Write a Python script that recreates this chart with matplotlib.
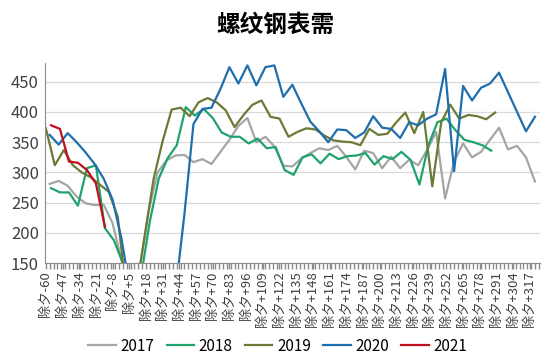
import matplotlib
matplotlib.use("Agg")
import matplotlib.pyplot as plt
import numpy as np

plt.rcParams['font.family'] = ['Noto Sans CJK SC', 'DejaVu Sans']

# weekly readings, day 0 = 除夕 (Chinese New Year's Eve)
years = ["2017", "2018", "2019", "2020", "2021"]
start_days = [-57, -56, -60, -57, -56]

v2017 = [281, 286, 278, 260, 249, 246, 247, 216, 155, 90, 140, 235, 300, 320, 328,
         329, 317, 322, 314, 334, 354, 377, 390, 350, 359, 343, 311, 310, 323, 332,
         340, 337, 344, 326, 305, 336, 332, 307, 326, 307, 321, 312, 337, 367, 257,
         318, 348, 325, 334, 354, 374, 338, 344, 325, 285]
v2018 = [274, 267, 267, 245, 307, 312, 208, 188, 150, 100, 126, 219, 290, 324, 345,
         408, 394, 405, 390, 366, 359, 359, 348, 356, 340, 342, 304, 296, 325, 330,
         315, 331, 322, 327, 328, 332, 313, 327, 322, 334, 321, 280, 345, 383, 389,
         370, 354, 350, 345, 336]
v2019 = [373, 312, 337, 312, 300, 292, 280, 268, 227, 95, 100, 195, 290, 352, 404,
         407, 393, 416, 423, 416, 403, 375, 395, 412, 419, 392, 389, 359, 367, 373,
         371, 361, 353, 351, 350, 345, 372, 362, 364, 383, 399, 365, 400, 277, 383,
         412, 389, 395, 393, 388, 399]
v2020 = [362, 346, 365, 350, 333, 314, 290, 255, 190, 100, np.nan, np.nan, np.nan,
         np.nan, 103, 232, 380, 405, 407, 438, 474, 447, 477, 444, 474, 477, 425, 445,
         414, 384, 368, 350, 371, 370, 357, 366, 393, 374, 372, 357, 383, 378, 389,
         396, 471, 302, 443, 419, 440, 447, 465, np.nan, np.nan, 368, 392]
v2021 = [378, 372, 318, 316, 304, 282, 210]

colors = ["#A5A5A5", "#1FA36C", "#6B7A34", "#1F6EAD", "#C0101E"]

tick_days = list(range(-60, 318, 13))
tick_labels = ["除夕%+d" % d for d in tick_days]

fig = plt.figure(figsize=(5.5, 3.64), dpi=100)
ax = fig.add_axes([0.081, 0.277, 0.901, 0.55])

for name, d0, vals, c in zip(years, start_days, [v2017, v2018, v2019, v2020, v2021], colors):
    y = np.array(vals, dtype=float)
    x = d0 + 7 * np.arange(len(y))
    m = ~np.isnan(y)
    ax.plot(x[m], y[m], color=c, lw=1.6, label=name)

ax.set_xlim(-61, 325)
ax.set_ylim(150, 481)
ax.set_yticks(range(150, 451, 50))
ax.yaxis.grid(True, color="#D9D9D9", lw=0.9)
ax.set_axisbelow(True)

ax.set_xticks(tick_days)
ax.set_xticklabels(tick_labels, rotation=90, fontsize=9.5, color="#404040")
ax.set_xticks(np.arange(-60, 325, 3), minor=True)
ax.tick_params(axis="x", which="both", length=4, width=1, color="#8C8C8C", pad=2)
ax.tick_params(axis="y", length=0, labelsize=12, colors="#404040", pad=4)

for s in ["top", "right"]:
    ax.spines[s].set_visible(False)
ax.spines["left"].set_color("#8C8C8C")
ax.spines["bottom"].set_color("#8C8C8C")

fig.suptitle("螺纹钢表需", fontsize=17, fontweight="bold", x=0.5, y=0.965)
fig.legend(loc="lower center", bbox_to_anchor=(0.505, -0.012), ncol=5, frameon=False,
           fontsize=11, handlelength=1.8, handletextpad=0.3, columnspacing=0.8)

fig.savefig("out.png", dpi=100)
